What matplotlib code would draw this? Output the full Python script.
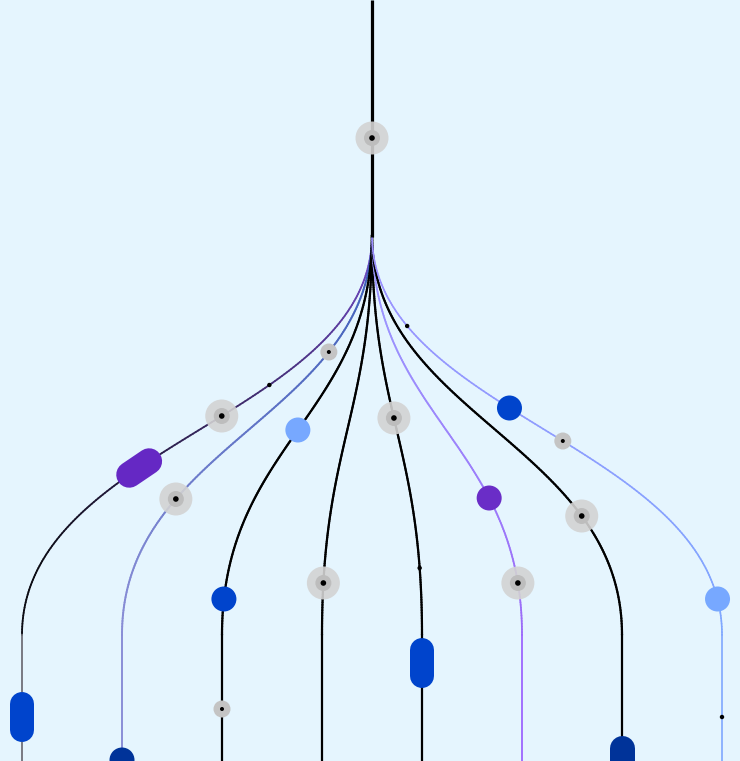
import numpy as np
import matplotlib
matplotlib.use("Agg")
import matplotlib.pyplot as plt
from matplotlib.collections import LineCollection
from matplotlib.colors import to_rgb
from matplotlib.patches import Circle

# --- layout data (pixel space) ---
W, H = 740, 761
trunk_x = 372
split_y = 235
bend_y = 635
columns = [22, 122, 222, 322, 422, 522, 622, 722]

# top colour, colour where the curve meets the column, colour of the column, line width
branch_top = ["#7c50d8", "#3a5cb8", "#000000", "#000000", "#000000", "#9c9cff", "#000000", "#9d90ff"]
branch_mid = ["#0c0c14", "#8a8ed6", "#000000", "#000000", "#000000", "#9c6cf8", "#000000", "#80a8ff"]
branch_col = ["#707078", "#8a8ed6", "#000000", "#000000", "#000000", "#9c66ff", "#000000", "#80a8ff"]
branch_lw = [1.3, 1.4, 1.6, 1.6, 1.6, 1.3, 1.6, 1.2]

# markers: (branch, y) ; branch -1 is the trunk
targets_big = [(-1, 138), (0, 416), (1, 499), (3, 583), (4, 418), (5, 583), (6, 516)]
targets_small = [(1, 352), (2, 709), (7, 441)]
dots = [(0, 385), (4, 568), (7, 326), (7, 717)]
circles = [(2, 430, "#77a8ff"), (2, 599, "#0044cc"), (5, 498, "#6a2dc7"),
           (7, 408, "#0044cc"), (7, 599, "#77a8ff"), (1, 760, "#003399")]
capsules = [(0, 468, "#6528c4", 50, 26), (0, 717, "#0044cc", 50, 24),
            (4, 663, "#0044cc", 50, 24), (6, 760, "#003399", 50, 25)]


def branch_path(xk, n=200):
    t = np.linspace(0, 1, n)
    p0 = np.array([trunk_x, split_y])
    p1 = np.array([trunk_x, split_y + 180])
    p2 = np.array([xk, bend_y - 190])
    p3 = np.array([xk, bend_y])
    pts = ((1 - t) ** 3)[:, None] * p0 + (3 * (1 - t) ** 2 * t)[:, None] * p1 \
        + (3 * (1 - t) * t ** 2)[:, None] * p2 + (t ** 3)[:, None] * p3
    return pts


def pos(b, y):
    if b < 0:
        return trunk_x, y
    if y >= bend_y:
        return columns[b], y
    pts = branch_path(columns[b], 600)
    return np.interp(y, pts[:, 1], pts[:, 0]), y


def angle(b, y):
    x1, _ = pos(b, y - 2)
    x2, _ = pos(b, y + 2)
    return np.arctan2(4, x2 - x1)


fig = plt.figure(figsize=(W / 100, H / 100), dpi=100)
ax = fig.add_axes([0, 0, 1, 1])
ax.set_xlim(0, W)
ax.set_ylim(H, 0)
ax.axis("off")
fig.patch.set_facecolor("#e5f5fe")
ax.set_facecolor("#e5f5fe")

# trunk
ax.plot([trunk_x, trunk_x], [0, split_y + 2], color="black", lw=2.3, solid_capstyle="butt", zorder=3)

# branches
for i, xk in enumerate(columns):
    pts = branch_path(xk)
    segs = np.stack([pts[:-1], pts[1:]], axis=1)
    c0, c1 = np.array(to_rgb(branch_top[i])), np.array(to_rgb(branch_mid[i]))
    f = np.linspace(0, 1, len(segs))[:, None]
    if i == 0:
        f = np.clip(f * 1.15, 0, 1) ** 0.8
    cols = c0 * (1 - f) + c1 * f
    ax.add_collection(LineCollection(segs, colors=cols, linewidths=branch_lw[i], zorder=2,
                                     capstyle="round"))
    ax.plot([xk, xk], [bend_y, H + 5], color=branch_col[i], lw=branch_lw[i], zorder=2)

# gray targets
for b, y in targets_big:
    x, y = pos(b, y)
    ax.add_patch(Circle((x, y), 16.5, color="#d3d3d3", alpha=0.9, lw=0, zorder=4))
    ax.add_patch(Circle((x, y), 8, color="#bdbdbd", lw=0, zorder=4))
    ax.add_patch(Circle((x, y), 2.8, color="black", lw=0, zorder=5))
for b, y in targets_small:
    x, y = pos(b, y)
    ax.add_patch(Circle((x, y), 8.5, color="#c4c4c4", lw=0, zorder=4))
    ax.add_patch(Circle((x, y), 2.0, color="black", lw=0, zorder=5))
for b, y in dots:
    x, y = pos(b, y)
    ax.add_patch(Circle((x, y), 2.2, color="black", lw=0, zorder=5))
for b, y, c in circles:
    x, y = pos(b, y)
    ax.add_patch(Circle((x, y), 12.5, color=c, lw=0, zorder=5))

# capsules as thick round-capped strokes
for b, y, c, length, width in capsules:
    x, y = pos(b, y)
    a = angle(b, y)
    half = (length - width) / 2
    dx, dy = half * np.cos(a), half * np.sin(a)
    ax.plot([x - dx, x + dx], [y - dy, y + dy], color=c, lw=width * 0.72,
            solid_capstyle="round", zorder=5)

fig.savefig("out.png", dpi=100, facecolor=fig.get_facecolor())
